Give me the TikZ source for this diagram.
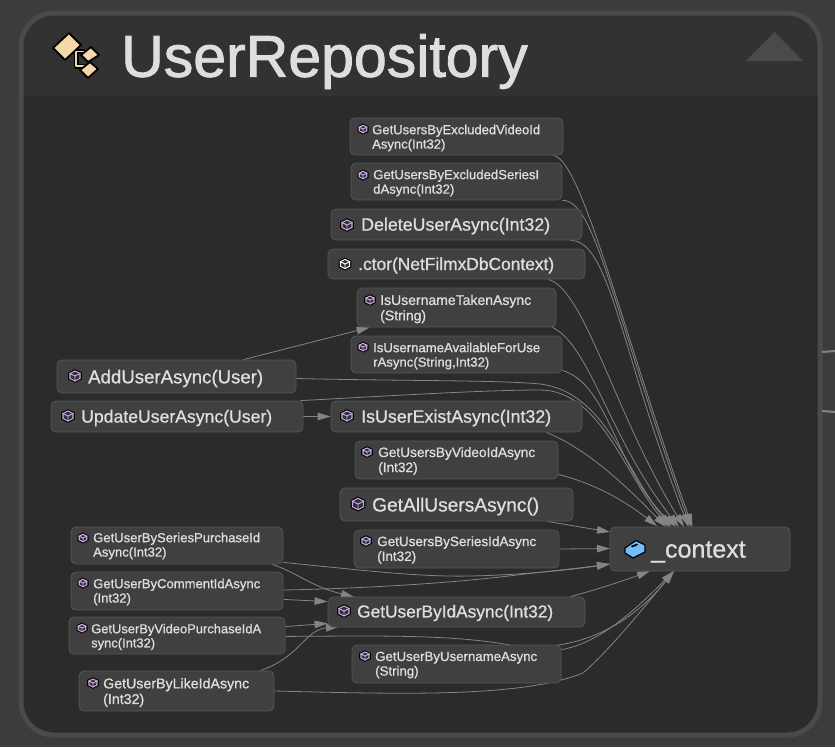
\documentclass[tikz,border=0pt]{standalone}
\usepackage{fontspec}
\setmainfont{Liberation Sans}
\newfontfamily\labfont[FakeBold=0.8]{Liberation Sans}
\newfontfamily\titlefont[FakeBold=1.5]{Liberation Sans}
\usetikzlibrary{arrows.meta,calc}
\pgfdeclarelayer{frame}\pgfdeclarelayer{edges}
\pgfsetlayers{frame,edges,main}
\definecolor{outerbg}{RGB}{60,60,60}
\definecolor{headbg}{RGB}{50,50,50}
\definecolor{bodybg}{RGB}{43,43,43}
\definecolor{rimc}{RGB}{74,74,74}
\definecolor{boxfill}{RGB}{64,64,64}
\definecolor{boxrim}{RGB}{86,86,86}
\definecolor{txt}{RGB}{222,222,222}
\definecolor{edgec}{RGB}{132,132,132}
\definecolor{lav}{RGB}{205,175,230}
\definecolor{cubein}{RGB}{52,46,60}
\definecolor{tan1}{RGB}{245,215,170}
\definecolor{blu}{RGB}{115,190,250}
\newbox\lbbox
\tikzset{
  x=1pt,y=-1pt,
  mbox/.style={draw=boxrim,fill=boxfill,rounded corners=5pt,line width=0.8pt,inner sep=0pt},
  lab/.style={anchor=west,inner sep=0pt,align=left,text=txt},
  link/.style={draw=edgec,line width=0.8pt,-{Triangle[length=13pt,width=7.5pt,fill=edgec]}},
}
% box: name, x1, y1, x2, y2
\newcommand\bx[5]{%
  \pgfmathsetmacro\bw{#4-#2}\pgfmathsetmacro\bh{#5-#3}%
  \node[mbox,minimum width=\bw pt,minimum height=\bh pt] (#1) at ({(#2+#4)/2},{(#3+#5)/2}) {};}
% label: name, x, ycentre, width of first line, first line, second line
\newcommand\lb[6]{%
  \setbox\lbbox=\hbox{\pgfinterruptpicture\labfont\fontsize{10}{12}\selectfont #5\endpgfinterruptpicture}%
  \edef\lbw{\the\wd\lbbox}%
  \pgfmathsetmacro\fs{10*#4/\lbw}%
  \pgfmathsetmacro\ld{1.1*\fs}%
  \node[lab,font=\labfont\fontsize{\fs}{\ld}\selectfont] (#1) at (#2,#3) {#5\ifx&#6&\else\\#6\fi};}
% hexagon path helper: x, y, r
\newcommand\hexa[3]{({#1},{#2-(#3)}) -- ({#1+(#3)},{#2-(#3)/2}) -- ({#1+(#3)},{#2+(#3)/2}) -- ({#1},{#2+(#3)}) -- ({#1-(#3)},{#2+(#3)/2}) -- ({#1-(#3)},{#2-(#3)/2}) -- cycle}
% cube icon: x, y, r, colour
\newcommand\cube[4]{%
  \fill[black] \hexa{#1}{#2}{#3+1.2};
  \fill[#4] \hexa{#1}{#2}{#3};
  \fill[cubein] \hexa{#1}{#2}{#3-1.3};
  \draw[#4,line width=0.9pt] ({#1-#3},{#2-#3/2}) -- (#1,#2) -- ({#1+#3},{#2-#3/2}) (#1,#2) -- (#1,{#2+#3});
}
\begin{document}
\begin{tikzpicture}
\useasboundingbox (0,0) rectangle (835,747);
\begin{pgfonlayer}{frame}
  \fill[outerbg] (0,0) rectangle (835,747);
  \draw[black!75,line width=1pt] (0,746) -- (835,746);
  \fill[bodybg,rounded corners=33pt] (21,13) rectangle (820,735);
  \begin{scope}
    \clip (0,0) rectangle (835,95);
    \fill[headbg,rounded corners=33pt] (21,13) rectangle (820,300);
  \end{scope}
  \draw[rimc,line width=5pt,rounded corners=33pt] (21,13) rectangle (820,735);
  \fill[rimc] (746,61) -- (774.5,32) -- (803,61) -- cycle;
  \draw[edgec,line width=2pt] (822,352) -- (835,351);
  \draw[edgec,line width=2pt] (822,411) -- (835,412);
\end{pgfonlayer}
% class icon
\begin{scope}[line join=round]
  \draw[black,line width=5pt] (73,51.5) -- (85,51.5) (76,51.5) -- (76,66) -- (84,66);
  \draw[tan1,line width=1.6pt] (73,51.5) -- (85,51.5) (76,51.5) -- (76,66) -- (84,66);
  \draw[black,line width=1.8pt,fill=tan1] (53,48) -- (69,33) -- (81,45) -- (65,60) -- cycle;
  \draw[black,line width=1.8pt,fill=tan1] (91,47) -- (99,55) -- (88,62) -- (81,55) -- cycle;
  \draw[black,line width=1.8pt,fill=tan1] (90,62) -- (98,69) -- (88,78) -- (80,70) -- cycle;
\end{scope}
\node[anchor=west,inner sep=0pt,text=txt,font=\titlefont\fontsize{59}{64}\selectfont] (title) at (121,61.5) {UserRepository};
% boxes
\bx{n1}{350}{118}{563}{155}
\bx{n2}{351}{163}{562}{200}
\bx{n3}{331}{209}{582}{240}
\bx{n4}{328}{249}{585}{279}
\bx{n5}{357}{288}{556}{327}
\bx{n6}{351}{336}{562}{373}
\bx{n7}{57}{360}{296}{393}
\bx{n8}{51}{401}{303}{432}
\bx{n9}{331}{401}{582}{432}
\bx{n10}{355}{441}{558}{479}
\bx{n11}{340}{488}{573}{521}
\bx{n12}{354}{530}{559}{568}
\bx{ctx}{610}{527}{790}{571}
\bx{n13}{71}{527}{283}{564}
\bx{n14}{71}{572}{283}{610}
\bx{n15}{69}{617}{285}{654}
\bx{n16}{79}{671}{274}{711}
\bx{n17}{328}{597}{585}{627}
\bx{n18}{352}{645}{561}{683}
% labels
\lb{t1}{372}{138}{168}{GetUsersByExcludedVideoId}{Async(Int32)}
\lb{t2}{373}{183}{166}{GetUsersByExcludedSeriesI}{dAsync(Int32)}
\lb{t3}{361}{226}{189}{DeleteUserAsync(Int32)}{}
\lb{t4}{358}{265.5}{196}{.ctor(NetFilmxDbContext)}{}
\lb{t5}{380}{309}{151}{IsUsernameTakenAsync}{(String)}
\lb{t6}{373}{356}{167}{IsUsernameAvailableForUse}{rAsync(String,Int32)}
\lb{t7}{88}{378.5}{175}{AddUserAsync(User)}{}
\lb{t8}{81}{418}{191}{UpdateUserAsync(User)}{}
\lb{t9}{361}{418}{190}{IsUserExistAsync(Int32)}{}
\lb{t10}{378}{461}{157}{GetUsersByVideoIdAsync}{(Int32)}
\lb{t11}{372}{506.5}{167}{GetAllUsersAsync()}{}
\lb{t12}{377}{550}{159}{GetUsersBySeriesIdAsync}{(Int32)}
\lb{t13}{93}{546}{167}{GetUserBySeriesPurchaseId}{Async(Int32)}
\lb{t14}{93}{592}{167}{GetUserByCommentIdAsync}{(Int32)}
\lb{t15}{91}{637}{170}{GetUserByVideoPurchaseIdA}{sync(Int32)}
\lb{t16}{103}{692.5}{146}{GetUserByLikeIdAsync}{(Int32)}
\lb{t17}{357}{613}{196}{GetUserByIdAsync(Int32)}{}
\lb{t18}{375}{665}{162}{GetUserByUsernameAsync}{(String)}
\node[lab,font=\labfont\fontsize{25}{28}\selectfont] (tctx) at (651,552) {\_context};
% icons
\cube{363}{129}{4.3}{lav}
\cube{363}{175}{4.3}{lav}
\cube{347}{225}{5.6}{lav}
\cube{345}{264}{5.2}{white}
\cube{370}{300}{4.6}{lav}
\cube{363}{347}{4.3}{lav}
\cube{75}{376}{5.6}{lav}
\cube{68}{416}{5.6}{lav}
\cube{347}{416}{5.6}{lav}
\cube{367}{452}{4.6}{lav}
\cube{358}{504}{6.2}{lav}
\cube{366}{541}{4.6}{lav}
\cube{83}{538}{4.3}{lav}
\cube{83}{583}{4.3}{lav}
\cube{82}{628}{4.3}{lav}
\cube{93}{683}{4.6}{lav}
\cube{344}{611}{5.6}{lav}
\cube{365}{656}{4.6}{lav}
% context icon
\draw[black,line width=1.2pt,fill=blu,line join=round] (625,548) -- (636,540.5) -- (645,545) -- (645,552) -- (633,558) -- (625,553) -- cycle;
\fill[black] (631,546) -- (637,543.5) -- (638,545) -- (632,547.5) -- cycle;
% connectors
\begin{pgfonlayer}{edges}
\coordinate (c1) at (692.5,527);
\coordinate (c2) at (690.5,527);
\coordinate (c3) at (688.5,527);
\coordinate (c4) at (684,527);
\coordinate (c5) at (679,527);
\coordinate (c6) at (676,527);
\coordinate (c7) at (671,527);
\coordinate (c8) at (669,527);
\coordinate (c9) at (666,527);
\coordinate (c10) at (657,526);
\coordinate (c11) at (610,532);
\coordinate (c12) at (610,548.5);
\coordinate (c13) at (610,564);
\coordinate (c17) at (650,571);
\coordinate (c18) at (674,571);
\path[link] ([xshift=-10pt]n1.south east) .. controls (582,160) and (622,330) .. (c1);
\path[link] (n2.south east) .. controls (595,200) and (610,300) .. (c2);
\path[link] ([xshift=-12pt]n3.south east) .. controls (610,240) and (620,350) .. (c3);
\path[link] ([xshift=-37pt]n4.south east) .. controls (585,290) and (615,415) .. (c4);
\path[link] ([xshift=-4pt]n5.south east) .. controls (590,345) and (610,440) .. (c5);
\path[link] ([yshift=3pt]n6.south east) .. controls (610,385) and (615,470) .. (c6);
\path[link] ([yshift=-2pt]n7.east) .. controls (400,381) and (500,380) .. (540,384) .. controls (605,392) and (625,470) .. (c7);
\path[link] ([xshift=-3pt]n8.north east) .. controls (370,397) and (480,390) .. (540,390) .. controls (600,390) and (625,475) .. (c8);
\path[link] ([xshift=-36pt]n9.south east) .. controls (590,450) and (630,490) .. (c9);
\path[link] ([yshift=5pt]n10.south east) .. controls (600,485) and (630,505) .. (c10);
\path[link] ([xshift=-26pt]n11.south east) -- (c11);
\path[link] (n12.east) -- (c12);
\path[link] ([yshift=2pt]n13.south east) .. controls (370,571) and (420,577) .. (470,576) .. controls (520,575) and (570,570) .. (c13);
\path[link] ([yshift=1pt]n14.east) .. controls (340,589) and (430,585) .. (500,577) .. controls (550,571) and (580,568) .. (c13);
\path[link] ([xshift=-11pt]n13.south east) .. controls (300,574) and (310,586) .. (354,597);
\path[link] ([yshift=11pt]n14.south east) -- ([yshift=-5pt]n17.north west);
\path[link] ([yshift=-10pt]n15.north east) -- ([yshift=4pt]n17.south west);
\path[link] ([yshift=18pt]n15.south east) .. controls (370,636) and (450,634) .. (510,645) .. controls (540,650) and (610,650) .. (c18);
\path[link] ([yshift=-5pt]n18.north east) .. controls (600,643) and (635,610) .. (c18);
\path[link] ([xshift=-14pt]n16.north east) .. controls (300,657) and (305,630) .. (339,626.5);
\path[link] (n16.east) .. controls (400,694) and (520,698) .. (583,673) .. controls (610,650) and (650,600) .. (c18);
\path[link] ([xshift=-15pt]n17.north east) .. controls (595,590) and (620,582) .. (c17);
\path[link] ([xshift=-53pt]n7.north east) -- ([xshift=13pt]n5.south west);
\path[link] (n8.east) -- (n9.west);
\end{pgfonlayer}
\end{tikzpicture}
\end{document}
